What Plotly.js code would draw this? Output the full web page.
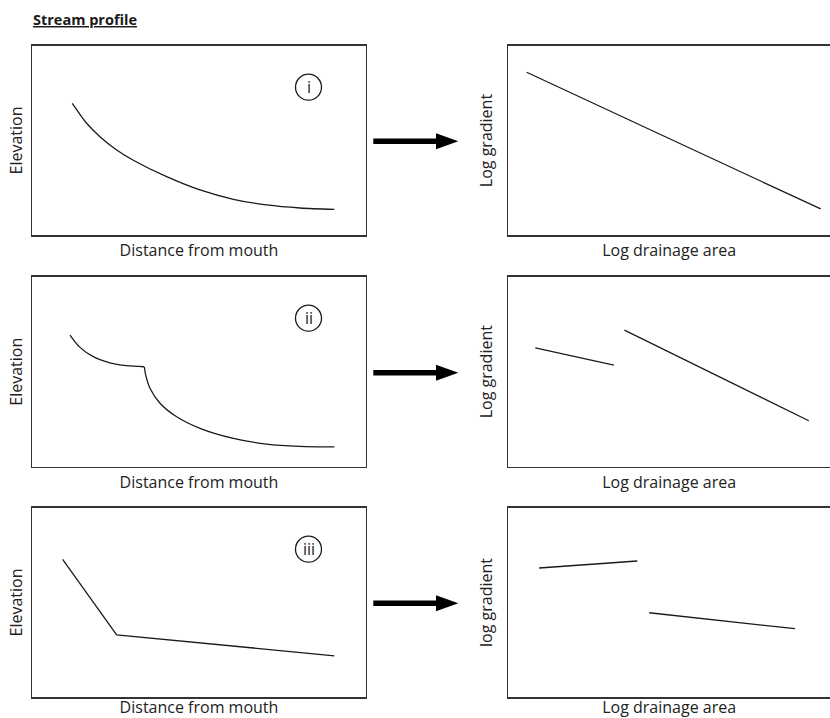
<!DOCTYPE html>
<html>
<head>
<meta charset="utf-8">
<script src="https://cdn.plot.ly/plotly-3.0.1.min.js"></script>
<style>html,body{margin:0;padding:0;background:#fff;overflow:hidden}</style>
</head>
<body>
<div id="chart" style="width:830px;height:718px"></div>
<script>
// ---- Data (arbitrary 0-100 units) ----
const profileI_x = [12.0, 16.3, 20.3, 25.3, 30.3, 40.3, 50.3, 60.3, 70.3, 80.3, 90.6];
const profileI_y = [69.6, 59.1, 52.0, 45.0, 39.6, 30.9, 23.9, 19.0, 16.0, 14.4, 13.7];

const profileII_upper_x = [11.3, 14.3, 18.3, 23.3, 28.3, 33.5];
const profileII_upper_y = [69.3, 62.8, 57.9, 54.7, 53.2, 52.6];
const profileII_lower_x = [33.6, 34.0, 35.3, 38.3, 43.3, 50.3, 60.3, 70.3, 80.3, 90.6];
const profileII_lower_y = [52.6, 48.3, 41.3, 33.4, 26.3, 20.2, 14.9, 11.9, 10.7, 10.4];

const profileIII_x = [9.1, 25.3, 90.6];
const profileIII_y = [72.8, 32.9, 21.9];

const slopeI_x = [5.7, 97.1];
const slopeI_y = [86.0, 13.9];

const slopeII_a_x = [8.4, 32.8];
const slopeII_a_y = [62.5, 53.5];
const slopeII_b_x = [36.1, 93.4];
const slopeII_b_y = [71.9, 24.2];

const slopeIII_a_x = [9.6, 40.1];
const slopeIII_a_y = [68.2, 71.9];
const slopeIII_b_x = [43.8, 89.1];
const slopeIII_b_y = [44.6, 36.2];

const caseLabels = ['i', 'ii', 'iii'];
const leftXTitle = 'Distance from mouth';
const leftYTitle = 'Elevation';
const rightXTitle = 'Log drainage area';
const rightYTitles = ['Log gradient', 'Log gradient', 'log gradient'];
const figTitle = 'Stream profile';

// ---- Layout geometry ----
const W = 830, H = 718;
const px = v => v / W;
const py = v => 1 - v / H;
const leftDom = [px(32.3), px(365.7)];
const rightDom = [px(508.3), 1];
const rows = [[45.7, 235.3], [276.7, 466.7], [507.7, 697.3]];
const rowDom = rows.map(r => [py(r[1]), py(r[0])]);

const FONT = 'Open Sans, Noto Sans, sans-serif';
const lineStyle = {color: '#1a1a1a', width: 1.3};

function tr(x, y, xa, ya, smooth) {
  return {x: x, y: y, xaxis: xa, yaxis: ya, type: 'scatter', mode: 'lines',
          line: Object.assign({}, lineStyle, smooth ? {shape: 'spline', smoothing: 0.8} : {}),
          hoverinfo: 'skip', showlegend: false};
}

const data = [
  tr(profileI_x, profileI_y, 'x', 'y', true),
  tr(slopeI_x, slopeI_y, 'x2', 'y2'),
  tr(profileII_upper_x, profileII_upper_y, 'x3', 'y3', true),
  tr(profileII_lower_x, profileII_lower_y, 'x3', 'y3', true),
  tr(slopeII_a_x, slopeII_a_y, 'x4', 'y4'),
  tr(slopeII_b_x, slopeII_b_y, 'x4', 'y4'),
  tr(profileIII_x, profileIII_y, 'x5', 'y5'),
  tr(slopeIII_a_x, slopeIII_a_y, 'x6', 'y6'),
  tr(slopeIII_b_x, slopeIII_b_y, 'x6', 'y6')
];

function ax(domain, anchor, mirror, title, standoff) {
  return {domain: domain, anchor: anchor, range: [0, 100], showline: true, mirror: mirror,
          linecolor: '#333', linewidth: 1.3, showgrid: false, zeroline: false,
          showticklabels: false, ticks: '', fixedrange: true,
          title: {text: title, font: {family: FONT, size: 16, color: '#222'}, standoff: standoff}};
}

const layout = {
  width: W, height: H,
  margin: {l: 0, r: 0, t: 0, b: 0},
  paper_bgcolor: '#fff', plot_bgcolor: '#fff',
  showlegend: false,
  font: {family: FONT, color: '#222'},
  shapes: [],
  annotations: []
};

for (let i = 0; i < 3; i++) {
  const nL = 2 * i + 1, nR = 2 * i + 2;
  const sL = nL === 1 ? '' : String(nL);
  const sR = String(nR);
  layout['xaxis' + sL] = ax(leftDom, 'y' + sL, true, leftXTitle, 9);
  layout['yaxis' + sL] = ax(rowDom[i], 'x' + sL, true, leftYTitle, 4);
  layout['xaxis' + sR] = ax(rightDom, 'y' + sR, true, rightXTitle, 9);
  layout['yaxis' + sR] = ax(rowDom[i], 'x' + sR, false, rightYTitles[i], 10);

  // circled case label
  const cy = rows[i][0] + 41.5, cx = 308.5, r = 13;
  layout.shapes.push({type: 'circle', xref: 'paper', yref: 'paper',
    x0: px(cx - r), x1: px(cx + r), y0: py(cy + r), y1: py(cy - r),
    line: {color: '#1a1a1a', width: 1.3}});
  layout.annotations.push({xref: 'paper', yref: 'paper', x: px(cx), y: py(cy),
    text: caseLabels[i], showarrow: false, xanchor: 'center', yanchor: 'middle',
    font: {family: FONT, size: 16, color: '#1a1a1a'}});

  // arrow between panels
  const ay = [141.3, 372.7, 603.3][i];
  layout.shapes.push({type: 'rect', xref: 'paper', yref: 'paper',
    x0: px(373.3), x1: px(438), y0: py(ay + 2.8), y1: py(ay - 2.8),
    fillcolor: '#000', line: {width: 0}});
  layout.shapes.push({type: 'path', xref: 'paper', yref: 'paper',
    path: 'M ' + px(436) + ' ' + py(ay - 8) + ' L ' + px(458.3) + ' ' + py(ay) +
          ' L ' + px(436) + ' ' + py(ay + 8) + ' Z',
    fillcolor: '#000', line: {width: 0}});
}

layout.annotations.push({xref: 'paper', yref: 'paper', x: px(31), y: py(19),
  text: '<b><u>' + figTitle + '</u></b>', showarrow: false, xanchor: 'left', yanchor: 'middle',
  font: {family: FONT, size: 14.5, color: '#1a1a1a'}});

Plotly.newPlot('chart', data, layout, {staticPlot: true, displayModeBar: false});
</script>
</body>
</html>
